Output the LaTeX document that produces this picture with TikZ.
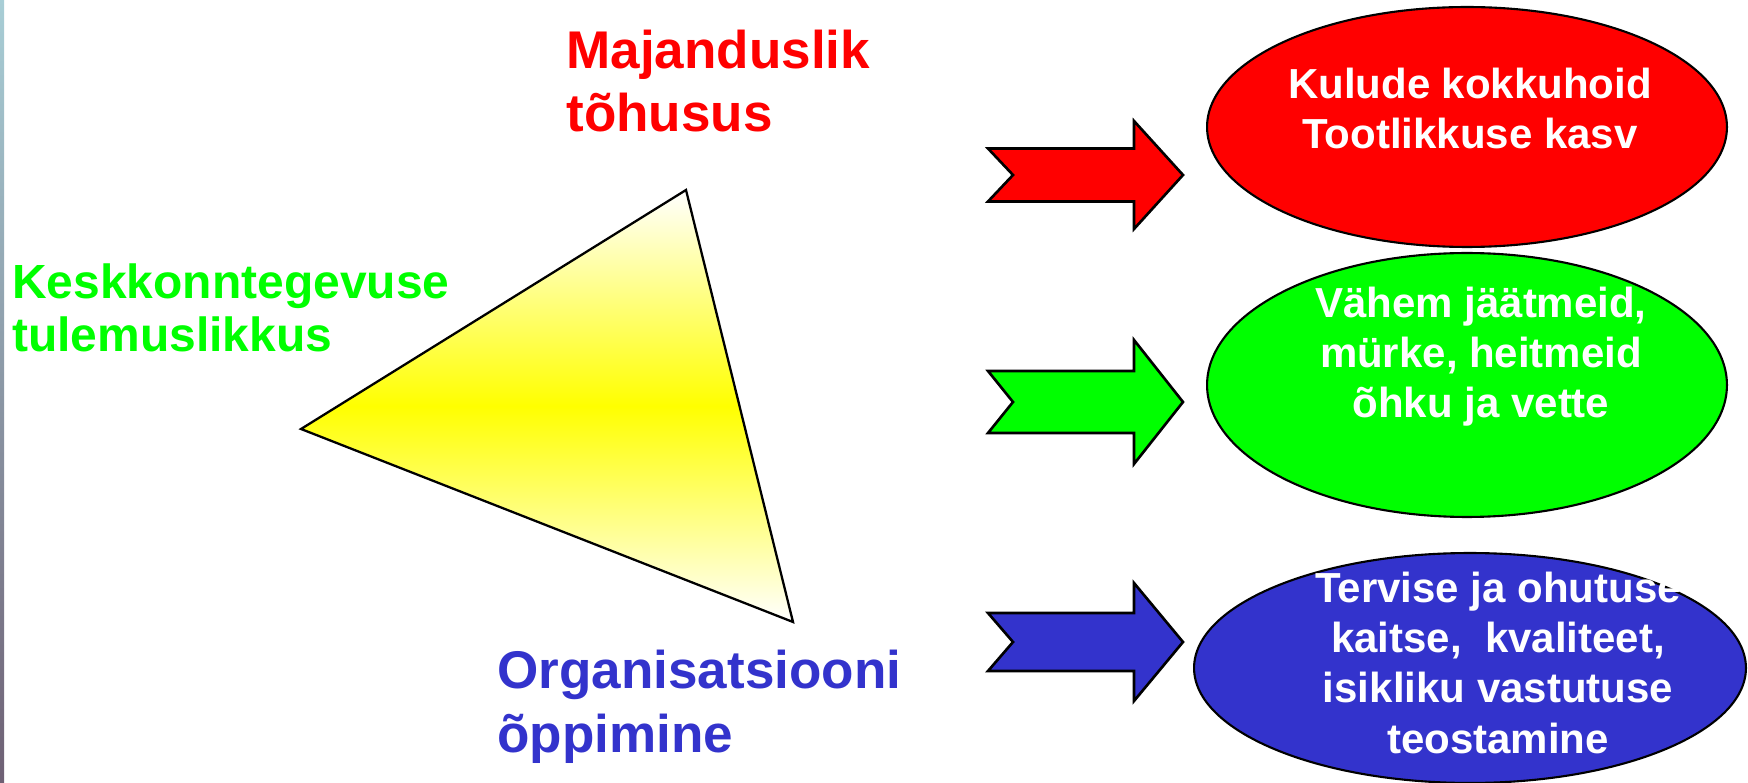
\documentclass[tikz,border=0pt]{standalone}
\usepackage{fontspec}
\setmainfont{Liberation Sans}
\usepackage{tikz}
\usetikzlibrary{shapes.geometric}

\definecolor{effred}{RGB}{255,0,0}
\definecolor{envgreen}{RGB}{0,255,0}
\definecolor{orgblue}{RGB}{51,51,204}
\definecolor{stripa}{RGB}{168,206,214}
\definecolor{stripb}{RGB}{110,96,116}

% block arrow: fill, centre y, half shaft, half head
\newcommand{\blockarrow}[4]{%
  \filldraw[blockarr, fill=#1] (988,#2-#3) -- (1134,#2-#3) -- (1134,#2-#4) -- (1183,#2)
    -- (1134,#2+#4) -- (1134,#2+#3) -- (988,#2+#3) -- (1013,#2) -- cycle;}

\begin{document}
\begin{tikzpicture}[x=0.02cm, y=-0.02cm,
	corner/.style={inner sep=0pt, align=left, font=\bfseries\fontsize{30.2}{36.4}\selectfont},
	oval/.style={ellipse, draw, line width=1.2pt, inner sep=0pt},
	ovaltext/.style={inner sep=0pt, align=center, text=white, font=\bfseries\fontsize{23.9}{28.5}\selectfont},
	blockarr/.style={draw, line width=1.5pt, line join=miter}]
	\useasboundingbox (0,0) rectangle (1748,783);
	\shade[top color=stripa, bottom color=stripb] (0,0) rectangle (4,783);

	% triangle
	\shadedraw[line width=1.3pt, line join=miter, top color=white, bottom color=white, middle color=yellow]
	(686,190) -- (301,429) -- (793,622) -- cycle;

	% corner labels (base = last line)
	\node[corner, anchor=base west, text=effred] (econ) at (566,132) {Majanduslik\\tõhusus};
	\node[corner, anchor=base west, text=envgreen, font=\bfseries\fontsize{27.3}{30.7}\selectfont] (env) at (12,352) {Keskkonntegevuse\\tulemuslikkus};
	\node[corner, anchor=base west, text=orgblue] (learn) at (497,752) {Organisatsiooni\\õppimine};

	% arrows
	\blockarrow{effred}{175}{26.5}{54}
	\blockarrow{envgreen}{402}{31}{62}
	\blockarrow{orgblue}{642}{29}{59}

	% ovals
	\node[oval, fill=effred, minimum width=10.4cm, minimum height=4.8cm] (cost) at (1467,127) {};
	\node[oval, fill=envgreen, minimum width=10.4cm, minimum height=5.28cm] (waste) at (1467,385) {};
	\node[oval, fill=orgblue, minimum width=11.04cm, minimum height=4.6cm] (health) at (1470,668) {};

	\node[ovaltext, anchor=base] (cost-t) at (1470,149) {Kulude kokkuhoid\\Tootlikkuse kasv};
	\node[ovaltext, anchor=base] (waste-t) at (1481,418) {Vähem jäätmeid,\\mürke, heitmeid\\õhku ja vette};
	\node[ovaltext, anchor=base] (health-t) at (1498,753) {Tervise ja ohutuse\\kaitse,\ \ kvaliteet,\\isikliku vastutuse\\teostamine};
\end{tikzpicture}
\end{document}
